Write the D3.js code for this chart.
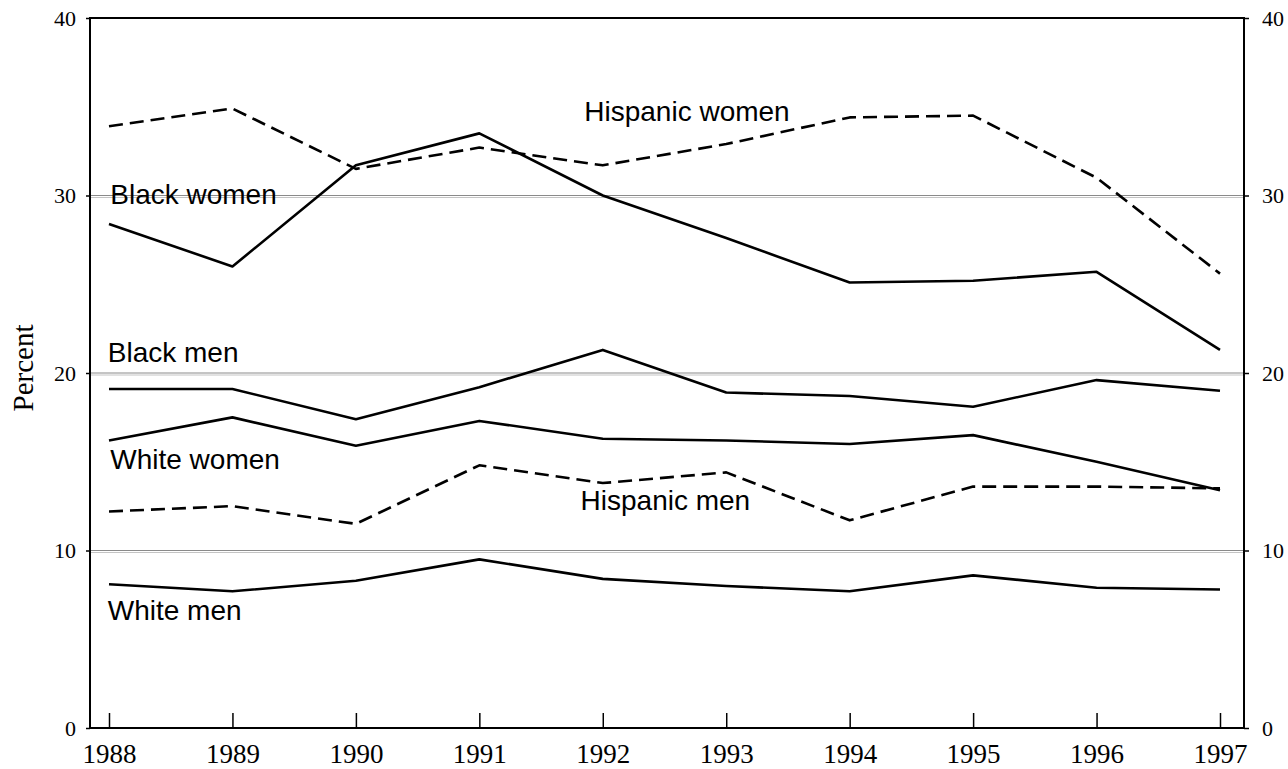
<!DOCTYPE html>
<html>
<head>
<meta charset="utf-8">
<script src="https://cdn.jsdelivr.net/npm/d3@7"></script>
<style>
  body { margin: 0; background: #fff; }
  svg { display: block; }
</style>
</head>
<body>
<svg id="chart"></svg>
<script>
const years = [1988, 1989, 1990, 1991, 1992, 1993, 1994, 1995, 1996, 1997];
const hispanicWomen = [33.9, 34.9, 31.5, 32.7, 31.7, 32.9, 34.4, 34.5, 31.0, 25.6];
const blackWomen = [28.4, 26.0, 31.7, 33.5, 30.0, 27.6, 25.1, 25.2, 25.7, 21.3];
const blackMen = [19.1, 19.1, 17.4, 19.2, 21.3, 18.9, 18.7, 18.1, 19.6, 19.0];
const whiteWomen = [16.2, 17.5, 15.9, 17.3, 16.3, 16.2, 16.0, 16.5, 15.0, 13.4];
const hispanicMen = [12.2, 12.5, 11.5, 14.8, 13.8, 14.4, 11.7, 13.6, 13.6, 13.5];
const whiteMen = [8.1, 7.7, 8.3, 9.5, 8.4, 8.0, 7.7, 8.6, 7.9, 7.8];
const yTicks = [0, 10, 20, 30, 40];
const gridValues = [10, 20, 30];

// label: text, year and value where the label's left baseline sits
const series = [
    { name: "Hispanic women", values: hispanicWomen, dashed: true, at: [1991.85, 34.2] },
    { name: "Black women", values: blackWomen, dashed: false, at: [1988.01, 29.5] },
    { name: "Black men", values: blackMen, dashed: false, at: [1987.99, 20.6] },
    { name: "White women", values: whiteWomen, dashed: false, at: [1988.01, 14.6] },
    { name: "Hispanic men", values: hispanicMen, dashed: true, at: [1991.82, 12.3] },
    { name: "White men", values: whiteMen, dashed: false, at: [1987.99, 6.1] }
];

const width = 1288, height = 769;
const plot = { left: 90, right: 1244, top: 18, bottom: 728 };

const svg = d3.select("#chart").attr("width", width).attr("height", height);

const x = d3.scaleLinear().domain([1988, 1997]).range([109, 1220]);
const y = d3.scaleLinear().domain([0, 40]).range([plot.bottom, plot.top]);

// gridlines (scanned look: a darker and a lighter hairline)
const grid = svg.append("g");
grid.selectAll(".g1")
    .data(gridValues)
    .join("line")
    .attr("x1", plot.left).attr("x2", plot.right)
    .attr("y1", d => y(d)).attr("y2", d => y(d))
    .attr("stroke", "#8a8a8a").attr("stroke-width", 1);
grid.selectAll(".g2")
    .data(gridValues)
    .join("line")
    .attr("x1", plot.left).attr("x2", plot.right)
    .attr("y1", d => y(d) + 2).attr("y2", d => y(d) + 2)
    .attr("stroke", "#c4c4c4").attr("stroke-width", 1);

// frame
svg.append("rect")
    .attr("x", plot.left).attr("y", plot.top)
    .attr("width", plot.right - plot.left).attr("height", plot.bottom - plot.top)
    .attr("fill", "none").attr("stroke", "#000").attr("stroke-width", 2);

// bottom axis: ticks point inward
const xAxis = svg.append("g")
    .attr("transform", `translate(0, ${plot.bottom})`)
    .call(d3.axisBottom(x).tickValues(years).tickFormat(d3.format("d")).tickSizeInner(-15).tickSizeOuter(0).tickPadding(16));
xAxis.select(".domain").remove();
xAxis.selectAll(".tick line").attr("stroke", "#000").attr("stroke-width", 1.5);
xAxis.selectAll("text")
    .attr("font-family", "'Liberation Serif', 'DejaVu Serif', serif")
    .attr("font-size", "27px")
    .attr("fill", "#000");

const leftAxis = svg.append("g")
    .attr("transform", `translate(${plot.left}, 0)`)
    .call(d3.axisLeft(y).tickValues(yTicks).tickSize(4).tickPadding(10));
const rightAxis = svg.append("g")
    .attr("transform", `translate(${plot.right}, 0)`)
    .call(d3.axisRight(y).tickValues(yTicks).tickSize(5).tickPadding(13));
[leftAxis, rightAxis].forEach(a => {
    a.select(".domain").remove();
    a.selectAll(".tick line").attr("stroke", "#000").attr("stroke-width", 1.5);
    a.selectAll("text")
        .attr("font-family", "'Liberation Serif', 'DejaVu Serif', serif")
        .attr("font-size", "22px")
        .attr("fill", "#000");
});

svg.append("text")
    .attr("transform", "translate(33, 368) rotate(-90)")
    .attr("text-anchor", "middle")
    .attr("font-family", "'Liberation Serif', 'DejaVu Serif', serif")
    .attr("font-size", "29px")
    .text("Percent");

// series lines
const line = d3.line()
    .x((d, i) => x(years[i]))
    .y(d => y(d));

svg.append("g")
    .selectAll("path")
    .data(series)
    .join("path")
    .attr("d", d => line(d.values))
    .attr("fill", "none")
    .attr("stroke", "#000")
    .attr("stroke-width", 2.6)
    .attr("stroke-linejoin", "round")
    .attr("stroke-dasharray", d => d.dashed ? "14 7" : null);

svg.append("g")
    .selectAll("text")
    .data(series)
    .join("text")
    .attr("x", d => x(d.at[0]))
    .attr("y", d => y(d.at[1]))
    .attr("font-family", "'Liberation Sans', Arial, sans-serif")
    .attr("font-size", "28px")
    .attr("fill", "#000")
    .text(d => d.name);
</script>
</body>
</html>
